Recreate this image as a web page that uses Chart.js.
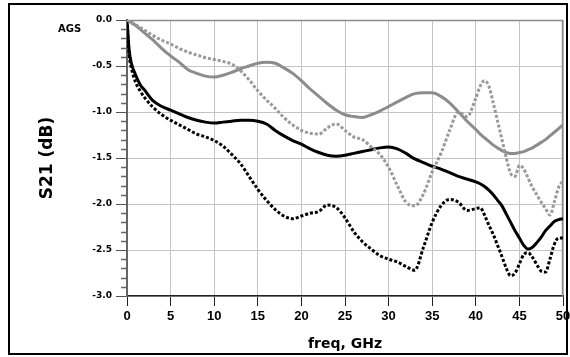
<!DOCTYPE html>
<html>
<head>
<meta charset="utf-8">
<script src="https://cdn.jsdelivr.net/npm/chart.js@4.4.1/dist/chart.umd.min.js"></script>
<style>
html,body{margin:0;padding:0;background:#fff;}
#wrap{position:relative;width:570px;height:357px;}
</style>
</head>
<body>
<div id="wrap"><canvas id="c" width="570" height="357"></canvas></div>
<script>
// Frequency grid (GHz)
const freq = [0,0.25,0.5,1,1.5,2,3,4,5,6,7,8,9,10,11,12,13,14,15,16,17,18,19,20,21,22,23,24,25,26,27,28,29,30,31,32,33,34,35,36,37,38,39,40,40.5,41,41.5,42,42.5,43,43.5,44,44.5,45,45.5,46,46.5,47,47.5,48,48.5,49,49.5,50];

// Solid black trace
const solidBlack = [0,-0.33,-0.47,-0.60,-0.70,-0.76,-0.88,-0.94,-0.98,-1.02,-1.06,-1.09,-1.11,-1.12,-1.11,-1.10,-1.09,-1.09,-1.10,-1.13,-1.20,-1.26,-1.31,-1.35,-1.40,-1.44,-1.47,-1.48,-1.47,-1.45,-1.43,-1.41,-1.39,-1.38,-1.40,-1.45,-1.51,-1.55,-1.59,-1.62,-1.66,-1.70,-1.73,-1.76,-1.78,-1.81,-1.85,-1.90,-1.96,-2.02,-2.11,-2.20,-2.29,-2.37,-2.45,-2.49,-2.47,-2.42,-2.36,-2.29,-2.24,-2.19,-2.17,-2.16];

// Dotted black trace
const dottedBlack = [0,-0.38,-0.52,-0.68,-0.77,-0.84,-0.95,-1.03,-1.09,-1.14,-1.19,-1.24,-1.27,-1.31,-1.37,-1.46,-1.56,-1.70,-1.84,-1.96,-2.06,-2.13,-2.16,-2.13,-2.10,-2.08,-2.01,-2.04,-2.15,-2.30,-2.41,-2.49,-2.56,-2.60,-2.63,-2.68,-2.72,-2.47,-2.20,-2.02,-1.95,-1.98,-2.07,-2.05,-2.04,-2.12,-2.23,-2.33,-2.45,-2.57,-2.70,-2.78,-2.75,-2.65,-2.55,-2.53,-2.58,-2.66,-2.73,-2.74,-2.60,-2.44,-2.37,-2.37];

// Solid gray trace
const solidGray = [0,-0.01,-0.03,-0.06,-0.10,-0.14,-0.22,-0.31,-0.39,-0.46,-0.54,-0.58,-0.61,-0.62,-0.60,-0.57,-0.53,-0.50,-0.47,-0.46,-0.47,-0.52,-0.58,-0.66,-0.75,-0.83,-0.91,-0.98,-1.03,-1.05,-1.06,-1.03,-0.99,-0.94,-0.89,-0.84,-0.80,-0.79,-0.79,-0.83,-0.90,-1.00,-1.10,-1.19,-1.24,-1.28,-1.32,-1.36,-1.39,-1.42,-1.44,-1.45,-1.45,-1.44,-1.43,-1.41,-1.39,-1.36,-1.33,-1.30,-1.26,-1.22,-1.18,-1.14];

// Dotted gray trace
const dottedGray = [0,-0.01,-0.02,-0.05,-0.08,-0.11,-0.17,-0.22,-0.26,-0.31,-0.35,-0.38,-0.41,-0.43,-0.45,-0.48,-0.55,-0.65,-0.77,-0.87,-0.96,-1.06,-1.14,-1.20,-1.23,-1.24,-1.17,-1.13,-1.20,-1.27,-1.30,-1.38,-1.46,-1.60,-1.80,-1.98,-2.02,-1.89,-1.65,-1.45,-1.20,-1.00,-1.05,-0.85,-0.72,-0.66,-0.72,-0.90,-1.10,-1.30,-1.50,-1.67,-1.70,-1.58,-1.62,-1.72,-1.82,-1.90,-1.98,-2.05,-2.12,-1.98,-1.82,-1.75];

// Axis ticks
const xTicks = [0,5,10,15,20,25,30,35,40,45,50];
const yTicks = [0,-0.5,-1.0,-1.5,-2.0,-2.5,-3.0];

function pts(vals){ return freq.map((f,i)=>({x:f,y:vals[i]})); }

const framePlugin = {
  id:'frame',
  beforeDraw(chart){
    const ctx = chart.ctx;
    ctx.save();
    ctx.fillStyle='#fff';
    ctx.fillRect(0,0,chart.width,chart.height);
    ctx.restore();
  },
  beforeDatasetsDraw(chart){
    const {ctx, chartArea:a} = chart;
    ctx.save();
    ctx.strokeStyle='#8a8a8a';
    ctx.lineWidth=1.5;
    ctx.beginPath();
    ctx.moveTo(a.left,a.top+0.5); ctx.lineTo(a.right,a.top+0.5);
    ctx.moveTo(a.right-0.5,a.top); ctx.lineTo(a.right-0.5,a.bottom);
    ctx.stroke();
    ctx.restore();
  },
  afterDraw(chart){
    const {ctx, chartArea:a} = chart;
    const ys = chart.scales.y;
    ctx.save();
    // minor ticks on y axis
    ctx.strokeStyle='#666';
    ctx.lineWidth=1.5;
    ctx.beginPath();
    for(let k=1;k<30;k++){
      if(k%5===0) continue;
      const y = Math.round(ys.getPixelForValue(-k/10))+0.5;
      ctx.moveTo(a.left-6,y); ctx.lineTo(a.left,y);
    }
    ctx.stroke();
    // outer border
    ctx.strokeStyle='#000';
    ctx.lineWidth=2;
    ctx.strokeRect(9,4,558,350);
    // AGS label
    ctx.fillStyle='#000';
    ctx.font='bold 10px "DejaVu Sans"';
    ctx.textBaseline='middle';
    ctx.textAlign='left';
    ctx.fillText('AGS',58,29.5);
    ctx.restore();
  }
};

new Chart(document.getElementById('c'),{
  type:'line',
  data:{datasets:[
    {label:'dotted gray',data:pts(dottedGray),borderColor:'#999999',borderWidth:3,borderDash:[3,2],pointRadius:0,cubicInterpolationMode:'monotone'},
    {label:'solid gray',data:pts(solidGray),borderColor:'#8c8c8c',borderWidth:3,pointRadius:0,cubicInterpolationMode:'monotone'},
    {label:'dotted black',data:pts(dottedBlack),borderColor:'#000',borderWidth:3,borderDash:[3,2],pointRadius:0,cubicInterpolationMode:'monotone'},
    {label:'solid black',data:pts(solidBlack),borderColor:'#000',borderWidth:3,pointRadius:0,cubicInterpolationMode:'monotone'}
  ]},
  options:{
    responsive:false,
    animation:false,
    events:[],
    layout:{padding:{left:0,top:20,right:7,bottom:0}},
    plugins:{legend:{display:false},tooltip:{enabled:false}},
    scales:{
      x:{
        type:'linear',min:0,max:50,
        afterBuildTicks(s){ s.ticks = xTicks.map(v=>({value:v})); },
        afterFit(s){ s.height=61; s.paddingLeft=0; s.paddingRight=0; },
        grid:{color:'#c4c4c4',lineWidth:1,tickColor:'#222',tickLength:10,drawTicks:true},
        border:{color:'#222',width:1.5},
        ticks:{color:'#000',padding:3,maxRotation:0,autoSkip:false,font:{family:'"Liberation Sans"',weight:'bold',size:13},callback:v=>String(v)},
        title:{display:true,text:'freq, GHz',color:'#000',font:{family:'"DejaVu Sans"',weight:'bold',size:14},padding:{top:0,bottom:4}}
      },
      y:{
        type:'linear',min:-3,max:0,
        afterBuildTicks(s){ s.ticks = yTicks.map(v=>({value:v})); },
        afterFit(s){ s.width=127; s.paddingTop=0; s.paddingBottom=0; },
        grid:{color:'#c4c4c4',lineWidth:1,tickColor:'#555',tickLength:11,drawTicks:true},
        border:{color:'#666',width:2},
        ticks:{color:'#000',padding:4,autoSkip:false,font:{family:'"DejaVu Sans"',weight:'bold',size:9},callback:v=>(Math.abs(v)<1e-9?'0.0':Number(v).toFixed(1))},
        title:{display:true,text:'S21 (dB)',color:'#000',font:{family:'"DejaVu Sans"',weight:'bold',size:17},padding:{top:37,bottom:0}}
      }
    }
  },
  plugins:[framePlugin]
});
</script>
</body>
</html>
